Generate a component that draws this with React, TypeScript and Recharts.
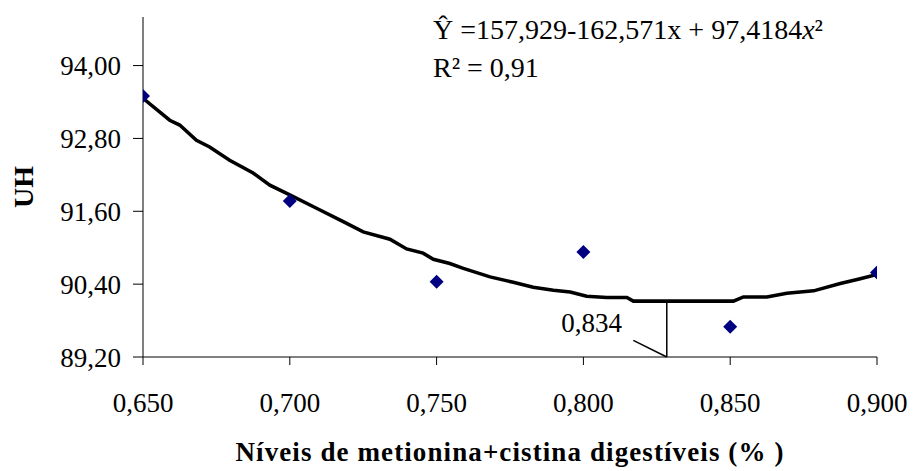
import React from 'react';
import {
  ComposedChart,
  Line,
  Scatter,
  XAxis,
  YAxis,
  ReferenceLine,
  ReferenceDot,
  Label,
} from 'recharts';

// Observed points
const levels = [0.65, 0.7, 0.75, 0.8, 0.85, 0.9];
const uhObserved = [93.5, 91.77, 90.44, 90.93, 89.7, 90.59];

// Fitted curve
const curveX = [
  0.65, 0.6591, 0.6625, 0.6682, 0.6727, 0.6795, 0.6875, 0.6932, 0.7, 0.7091,
  0.7182, 0.725, 0.7341, 0.7398, 0.7454, 0.7489, 0.7545, 0.7591, 0.7682,
  0.7761, 0.7829, 0.7898, 0.7955, 0.8011, 0.808, 0.8148, 0.817, 0.8511,
  0.8545, 0.8625, 0.8693, 0.8784, 0.8875, 0.8943, 0.9,
];
const curveY = [
  93.46, 93.1, 93.02, 92.77, 92.66, 92.44, 92.23, 92.03, 91.87, 91.65, 91.43,
  91.26, 91.14, 90.98, 90.91, 90.81, 90.74, 90.66, 90.52, 90.43, 90.35, 90.3,
  90.27, 90.2, 90.18, 90.18, 90.12, 90.12, 90.19, 90.19, 90.25, 90.29, 90.41,
  90.49, 90.56,
];

// Axis ticks
const xTicks = [0.65, 0.7, 0.75, 0.8, 0.85, 0.9];
const yTicks = [89.2, 90.4, 91.6, 92.8, 94.0];
const yDomain = [89.2, 94.8];

// Callout for the optimum
const optimumLabel = '0,834';
const calloutX = 0.8284;
const calloutLevel = 90.12;
const calloutLeftX = 0.817;
const calloutRightX = 0.8511;
const calloutDiagY = 89.475;
const calloutTextX = 0.8028;
const calloutTextY = 89.77;

const equationText = 'Ŷ =157,929-162,571x + 97,4184';
const r2Text = 'R² = 0,91';
const xTitle = 'Níveis de metionina+cistina digestíveis (% )';
const yTitle = 'UH';

const observedData = levels.map((x, i) => ({ x, y: uhObserved[i] }));
const curveData = curveX.map((x, i) => ({ x, fit: curveY[i] }));

const FONT = 'Liberation Serif';

const Diamond = (props: any) => {
  const { cx, cy } = props;
  const r = 7;
  return (
    <polygon
      points={`${cx},${cy - r} ${cx + r},${cy} ${cx},${cy + r} ${cx - r},${cy}`}
      fill="#000080"
    />
  );
};

const fmtX = (v: number) => v.toFixed(3).replace('.', ',');
const fmtY = (v: number) => v.toFixed(2).replace('.', ',');

export default function App() {
  return (
    <div
      style={{
        position: 'absolute',
        left: 0,
        top: 0,
        width: 916,
        height: 471,
        background: '#fff',
        fontFamily: FONT,
      }}
    >
      <ComposedChart
        width={916}
        height={471}
        margin={{ top: 17, right: 39, bottom: 0, left: 0 }}
        style={{ fontFamily: FONT }}
      >
        <XAxis
          dataKey="x"
          type="number"
          domain={[0.65, 0.9]}
          ticks={xTicks}
          tickFormatter={fmtX}
          allowDataOverflow
          height={114}
          tickSize={8}
          tickMargin={28}
          stroke="#000"
          tick={{ fill: '#000', fontSize: 27, fontFamily: FONT }}
        >
          <Label
            value={xTitle}
            position="insideBottom"
            offset={10}
            fontFamily={FONT}
            style={{
              fontSize: 27,
              fontWeight: 'bold',
              fill: '#000',
              fontFamily: FONT,
              letterSpacing: '1.1px',
            }}
          />
        </XAxis>
        <YAxis
          type="number"
          domain={yDomain}
          ticks={yTicks}
          tickFormatter={fmtY}
          allowDataOverflow
          width={143}
          tickSize={10}
          tickMargin={12}
          stroke="#000"
          tick={{ fill: '#000', fontSize: 27, fontFamily: FONT }}
        >
          <Label
            value={yTitle}
            angle={-90}
            position="insideLeft"
            offset={23}
            textAnchor="middle"
            fontFamily={FONT}
            style={{ fontSize: 28, fontWeight: 'bold', fill: '#000', fontFamily: FONT, textAnchor: 'middle' }}
          />
        </YAxis>
        <Line
          data={curveData}
          dataKey="fit"
          type="linear"
          stroke="#000"
          strokeWidth={3.5}
          dot={false}
          isAnimationActive={false}
        />
        <ReferenceLine
          segment={[
            { x: calloutLeftX, y: calloutLevel },
            { x: calloutRightX, y: calloutLevel },
          ]}
          stroke="#000"
          strokeWidth={3.5}
        />
        <ReferenceLine
          segment={[
            { x: calloutX, y: calloutLevel },
            { x: calloutX, y: yDomain[0] },
          ]}
          stroke="#000"
          strokeWidth={1.5}
        />
        <ReferenceLine
          segment={[
            { x: calloutLeftX, y: calloutDiagY },
            { x: calloutX, y: yDomain[0] },
          ]}
          stroke="#000"
          strokeWidth={1.5}
        />
        <ReferenceDot x={calloutTextX} y={calloutTextY} r={0} fill="none" stroke="none">
          <Label
            value={optimumLabel}
            position="center"
            fontFamily={FONT}
            style={{ fontSize: 27, fill: '#000', fontFamily: FONT }}
          />
        </ReferenceDot>
        <Scatter
          data={observedData}
          dataKey="y"
          shape={<Diamond />}
          isAnimationActive={false}
        />
      </ComposedChart>
      <div
        style={{
          position: 'absolute',
          left: 433,
          top: 11,
          fontSize: 28,
          lineHeight: '38px',
          whiteSpace: 'nowrap',
          color: '#000',
          fontFamily: FONT,
        }}
      >
        <div>
          {equationText}
          <i>x</i>²
        </div>
        <div>{r2Text}</div>
      </div>
    </div>
  );
}
